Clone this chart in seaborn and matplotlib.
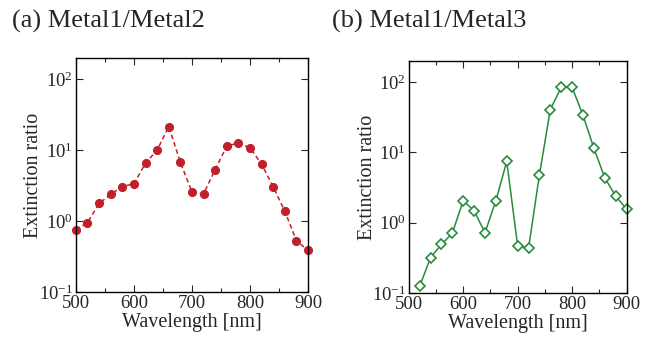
import numpy as np
import pandas as pd
import matplotlib
matplotlib.use("Agg")
import matplotlib.pyplot as plt
import seaborn as sns
from matplotlib.ticker import LogLocator, FuncFormatter, MultipleLocator, NullLocator

# data
wavelength = [500, 520, 540, 560, 580, 600, 620, 640, 660, 680, 700,
              720, 740, 760, 780, 800, 820, 840, 860, 880, 900]
ratio_m1m2 = [0.76, 0.95, 1.77, 2.37, 3.07, 3.35, 6.56, 10.0, 21.5, 6.78, 2.56,
              2.42, 5.33, 11.4, 12.6, 10.8, 6.35, 3.04, 1.38, 0.53, 0.385]
wavelength_b = wavelength[1:]
ratio_m1m3 = [0.124, 0.32, 0.49, 0.71, 2.05, 1.48, 0.72, 2.05, 7.43, 0.47,
              0.43, 4.8, 40.6, 84, 84, 33.7, 11.5, 4.35, 2.39, 1.56]
titles = ["(a) Metal1/Metal2", "(b) Metal1/Metal3"]

sns.set_style("ticks")
plt.rcParams["font.family"] = ["Liberation Serif", "DejaVu Serif"]
plt.rcParams["mathtext.fontset"] = "custom"
plt.rcParams["mathtext.rm"] = "Liberation Serif"
plt.rcParams["mathtext.it"] = "Liberation Serif:italic"
plt.rcParams["xtick.direction"] = "in"
plt.rcParams["ytick.direction"] = "in"

df_a = pd.DataFrame({"wl": wavelength, "r": ratio_m1m2})
df_b = pd.DataFrame({"wl": wavelength_b, "r": ratio_m1m3})

fig = plt.figure(figsize=(6.54, 3.38), dpi=100)
ax1 = fig.add_axes([0.116, 0.136, 0.355, 0.693])
ax2 = fig.add_axes([0.625, 0.133, 0.333, 0.687])

red = "#c1202b"
green = "#2a8a3c"

sns.lineplot(data=df_a, x="wl", y="r", ax=ax1, color=red, marker="o",
             markersize=5.8, markeredgecolor=red, linestyle=(0, (3, 2)),
             linewidth=1.1, clip_on=False)
sns.lineplot(data=df_b, x="wl", y="r", ax=ax2, color=green, marker="D",
             markersize=5.0, markerfacecolor="white", markeredgecolor=green,
             markeredgewidth=1.2, linewidth=1.1, clip_on=False)

def pow_fmt(v, pos):
    e = int(round(np.log10(v)))
    return r"$10^{%d}$" % e

for ax, t, xt, lx in zip([ax1, ax2], titles, [12, 332], [-0.142, -0.147]):
    ax.set_yscale("log")
    ax.set_ylim(0.1, 200)
    ax.set_xlim(500, 900)
    ax.xaxis.set_major_locator(MultipleLocator(100))
    ax.xaxis.set_minor_locator(MultipleLocator(50))
    ax.yaxis.set_major_locator(LogLocator(base=10, numticks=10))
    ax.yaxis.set_minor_locator(NullLocator())
    ax.yaxis.set_major_formatter(FuncFormatter(pow_fmt))
    ax.tick_params(which="both", top=True, right=True, labelsize=13.5, pad=2)
    ax.tick_params(which="major", length=5, width=0.8)
    ax.tick_params(which="minor", length=3, width=0.8)
    for s in ax.spines.values():
        s.set_linewidth(1.0)
        s.set_color("black")
    ax.set_xlabel("Wavelength [nm]", fontsize=14.5, labelpad=1)
    ax.set_ylabel("Extinction ratio", fontsize=14.5)
    ax.yaxis.set_label_coords(lx, 0.5)
    fig.text(xt / 654, 1 - 28 / 338, t, fontsize=19, ha="left", va="baseline")

fig.savefig("out.png", dpi=100)
